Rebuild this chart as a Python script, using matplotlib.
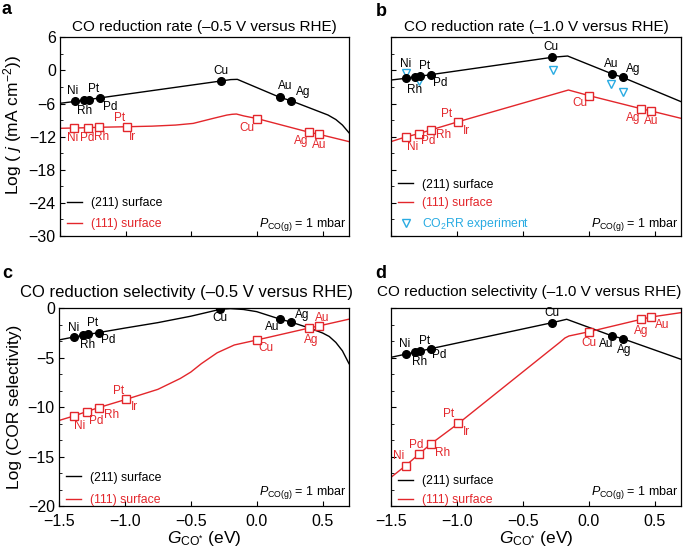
import numpy as np
import matplotlib
matplotlib.use("Agg")
import matplotlib.pyplot as plt
from matplotlib.ticker import MultipleLocator, AutoMinorLocator, FuncFormatter
from matplotlib.lines import Line2D

plt.rcParams['font.family'] = ['Liberation Sans', 'DejaVu Sans']
plt.rcParams['mathtext.fontset'] = 'custom'
plt.rcParams['mathtext.rm'] = 'Liberation Sans'
plt.rcParams['mathtext.it'] = 'Liberation Sans:italic'
plt.rcParams['mathtext.bf'] = 'Liberation Sans:bold'
plt.rcParams['axes.unicode_minus'] = True

BLACK = '#000000'
RED = '#e3262b'
CYAN = '#29abe2'

# ---------------- data ----------------
# panel a : rate at -0.5 V
a211_curve_G = [-1.5, -1.386, -1.32, -1.28, -1.196, -0.276, -0.2, -0.15, 0.173, 0.257, 0.54, 0.6, 0.65, 0.7]
a211_curve_v = [-5.96, -5.62, -5.40, -5.27, -4.98, -1.92, -1.66, -1.62, -4.87, -5.48, -8.08, -8.9, -9.9, -11.3]
a111_curve_G = [-1.5, -1.39, -1.29, -1.2, -0.988, -0.8, -0.62, -0.486, -0.334, -0.23, -0.19, -0.157, -0.1, 0.003, 0.396, 0.473, 0.7]
a111_curve_v = [-10.49, -10.43, -10.38, -10.3, -10.2, -10.1, -9.9, -9.6, -8.69, -8.09, -7.95, -7.9, -8.25, -8.74, -11.2, -11.58, -12.9]

metals211 = ['Ni', 'Rh', 'Pt', 'Pd', 'Cu', 'Au', 'Ag']
G211 = [-1.386, -1.32, -1.28, -1.196, -0.276, 0.173, 0.257]
a211_v = [-5.62, -5.40, -5.27, -4.98, -1.92, -4.87, -5.48]

metals111 = ['Ni', 'Pd', 'Rh', 'Pt', 'Cu', 'Ag', 'Au']
G111 = [-1.39, -1.29, -1.2, -0.988, 0.003, 0.396, 0.473]
a111_v = [-10.43, -10.38, -10.3, -10.2, -8.74, -11.2, -11.58]

# panel b : rate at -1.0 V
b211_curve_G = [-1.5, -1.386, -1.32, -1.28, -1.196, -0.276, -0.16, 0.173, 0.257, 0.7]
b211_curve_v = [-1.74, -1.42, -1.18, -1.06, -0.76, 2.38, 2.61, -0.59, -1.25, -5.66]
b211_v = [-1.42, -1.18, -1.06, -0.76, 2.38, -0.59, -1.25]
b111_curve_G = [-1.5, -1.39, -1.29, -1.2, -0.988, -0.154, 0.003, 0.396, 0.473, 0.7]
b111_curve_v = [-12.9, -12.06, -11.46, -10.8, -9.28, -3.55, -4.57, -6.93, -7.35, -8.68]
b111_v = [-12.06, -11.46, -10.8, -9.28, -4.57, -6.93, -7.35]
exp_metals = ['Ni', 'Pt', 'Cu', 'Au', 'Ag']
exp_G = [-1.386, -1.29, -0.272, 0.17, 0.259]
exp_v = [-0.45, -2.0, 0.08, -2.52, -3.96]

# panel c : selectivity at -0.5 V
c211_curve_G = [-1.5, -1.386, -1.32, -1.28, -1.196, -1.0, -0.75, -0.5, -0.276, -0.2, -0.1, 0.0, 0.173, 0.257, 0.4, 0.45, 0.5, 0.55, 0.6, 0.65, 0.7]
c211_curve_v = [-3.2, -2.9, -2.75, -2.65, -2.45, -2.0, -1.45, -0.8, -0.1, -0.03, -0.12, -0.34, -1.08, -1.38, -2.0, -2.25, -2.5, -2.85, -3.45, -4.3, -5.6]
c211_v = [-2.9, -2.75, -2.65, -2.45, -0.1, -1.08, -1.38]
c111_curve_G = [-1.5, -1.39, -1.29, -1.2, -0.988, -0.75, -0.58, -0.5, -0.42, -0.3, -0.17, 0.003, 0.396, 0.473, 0.7]
c111_curve_v = [-11.35, -10.9, -10.45, -10.05, -9.2, -8.2, -7.1, -6.45, -5.6, -4.5, -3.71, -3.2, -2.0, -1.78, -1.1]
c111_v = [-10.9, -10.45, -10.05, -9.2, -3.2, -2.0, -1.78]

# panel d : selectivity at -1.0 V
d211_curve_G = [-1.5, -1.386, -1.32, -1.28, -1.196, -0.276, -0.167, 0.173, 0.257, 0.7]
d211_curve_v = [-4.96, -4.63, -4.45, -4.33, -4.08, -1.45, -1.11, -2.77, -3.07, -5.16]
d211_v = [-4.63, -4.45, -4.33, -4.08, -1.45, -2.77, -3.07]
d111_curve_G = [-1.5, -1.39, -1.29, -1.2, -0.988, -0.3, -0.22, -0.18, -0.15, 0.003, 0.396, 0.473, 0.7]
d111_curve_v = [-17.1, -15.93, -14.78, -13.74, -11.64, -4.3, -3.45, -3.0, -2.8, -2.37, -1.12, -0.88, -0.44]
d111_v = [-15.93, -14.78, -13.74, -11.64, -2.37, -1.12, -0.88]

# label offsets (pixels, y up) for each metal marker
a211_off = [(-2, 10), (1, -11), (5, 11), (10, -9), (0, 10), (5, 11), (12, 9)]
a111_off = [(-2, -10), (0, -10), (2, -10), (-8, 9), (-11, -9), (-8, -9), (0, -11)]
b211_off = [(0, 14), (0, -13), (5, 10), (9, -8), (-1, 10), (0, 10), (11, 8)]
b111_off = [(7, -10), (10, -7), (13, -5), (-12, 8), (-9, -7), (-8, -9), (0, -10)]
c211_off = [(0, 9), (5, -10), (5, 11), (9, -7), (0, -9), (-7, -8), (12, 7)]
c111_off = [(6, -10), (10, -9), (13, -7), (-8, 8), (9, -8), (2, -12), (3, 8)]
d211_off = [(-1, 10), (5, -10), (5, 10), (8, -6), (0, 10), (-5, -8), (2, -11)]
d111_off = [(-7, 10), (-2, 9), (12, -9), (-10, 9), (0, -11), (0, -12), (11, -8)]

titles = ['CO reduction rate (\u20130.5 V versus RHE)', 'CO reduction rate (\u20131.0 V versus RHE)',
          'CO reduction selectivity (\u20130.5 V versus RHE)', 'CO reduction selectivity (\u20131.0 V versus RHE)']
panel_letters = ['a', 'b', 'c', 'd']
legend_labels = ['(211) surface', '(111) surface', 'CO$_2$RR experiment']
pressure_text = '$P_{\\mathrm{CO(g)}}$ = 1 mbar'

# ---------------- figure ----------------
fig = plt.figure(figsize=(6.85, 5.53), dpi=100)
W, H = 685.0, 553.0

def box(l, t, r, b):
    return [l / W, 1 - b / H, (r - l) / W, (b - t) / H]

axa = fig.add_axes(box(60, 37.3, 349, 236))
axb = fig.add_axes(box(391, 37.3, 681, 236), sharex=axa, sharey=axa)
axc = fig.add_axes(box(59, 308.3, 349, 506), sharex=axa)
axd = fig.add_axes(box(391, 308.3, 681, 506), sharex=axa, sharey=axc)
axes = [axa, axb, axc, axd]

LFS = 8.5

def plot_panel(ax, cG211, cv211, v211, off211, cG111, cv111, v111, off111, ir_off):
    ax.plot(cG211, cv211, color=BLACK, lw=1.0, zorder=2)
    ax.plot(cG111, cv111, color=RED, lw=1.0, zorder=2)
    ax.plot(G211, v211, 'o', color=BLACK, ms=5.5, zorder=4)
    ax.plot(G111, v111, 's', mfc='white', mec=RED, mew=1.0, ms=5.5, zorder=4)
    for m, g, v, o in zip(metals211, G211, v211, off211):
        ax.annotate(m, (g, v), xytext=o, textcoords='offset pixels', ha='center', va='center',
                    fontsize=LFS, color=BLACK, zorder=5)
    for m, g, v, o in zip(metals111, G111, v111, off111):
        ax.annotate(m, (g, v), xytext=o, textcoords='offset pixels', ha='center', va='center',
                    fontsize=LFS, color=RED, zorder=5)
    # Ir shares the Pt square
    ax.annotate('Ir', (G111[3], v111[3]), xytext=ir_off, textcoords='offset pixels',
                ha='center', va='center', fontsize=LFS, color=RED, zorder=5)

plot_panel(axa, a211_curve_G, a211_curve_v, a211_v, a211_off, a111_curve_G, a111_curve_v, a111_v, a111_off, (5, -10))
plot_panel(axb, b211_curve_G, b211_curve_v, b211_v, b211_off, b111_curve_G, b111_curve_v, b111_v, b111_off, (8, -9))
axb.plot(exp_G, exp_v, 'v', mfc='none', mec=CYAN, mew=1.0, ms=5.5, zorder=3)
plot_panel(axc, c211_curve_G, c211_curve_v, c211_v, c211_off, c111_curve_G, c111_curve_v, c111_v, c111_off, (8, -8))
plot_panel(axd, d211_curve_G, d211_curve_v, d211_v, d211_off, d111_curve_G, d111_curve_v, d111_v, d111_off, (8, -9))

minus_fmt = FuncFormatter(lambda x, p: ('%g' % x).replace('-', '\u2212'))
minus_fmt1 = FuncFormatter(lambda x, p: ('%.1f' % x).replace('-', '\u2212'))

axa.set_xlim(-1.5, 0.7)
axa.set_ylim(-30, 6)
axc.set_ylim(-20, 0)
axa.xaxis.set_major_locator(MultipleLocator(0.5))
axa.yaxis.set_major_locator(MultipleLocator(6))
axa.yaxis.set_minor_locator(MultipleLocator(3))
axc.yaxis.set_major_locator(MultipleLocator(5))
axc.yaxis.set_minor_locator(AutoMinorLocator(3))
axa.yaxis.set_major_formatter(minus_fmt)
axc.yaxis.set_major_formatter(minus_fmt)
axc.xaxis.set_major_formatter(minus_fmt1)

title_kw = [dict(fontsize=11, pad=4.5), dict(fontsize=11, pad=4.5),
            dict(fontsize=12, pad=8, x=0.44), dict(fontsize=11, pad=9, x=0.478)]
for i, ax in enumerate(axes):
    ax.tick_params(which='both', direction='in', top=False, right=False, labelsize=11.5)
    ax.tick_params(axis='y', pad=3)
    ax.tick_params(axis='x', pad=6)
    ax.tick_params(which='major', length=3.5, width=0.8)
    ax.tick_params(which='minor', length=2, width=0.6)
    for s in ax.spines.values():
        s.set_linewidth(0.9)
    ax.set_title(titles[i], **title_kw[i])
    if i < 2:
        ax.tick_params(labelbottom=False)
    if i in (1, 3):
        ax.tick_params(labelleft=False)
    ax.text(0.99, 0.06 if i < 2 else 0.07, pressure_text, transform=ax.transAxes, ha='right',
            va='center', fontsize=9)

axa.set_ylabel('Log ( $\\mathit{j}$ (mA cm$^{\\mathregular{-2}}$))', fontsize=12.5)
axa.yaxis.set_label_coords(-0.126, 0.56)
axc.set_ylabel('Log (COR selectivity)', fontsize=12.5)
axc.yaxis.set_label_coords(-0.128, 0.5)
for ax in (axc, axd):
    ax.set_xlabel('$\\mathit{G}_{\\mathrm{CO}^{*}}$ (eV)', fontsize=12.5, labelpad=0)

# legends
def add_legend(ax, with_exp, spacing, y0):
    handles = [Line2D([], [], color=BLACK, lw=1.0), Line2D([], [], color=RED, lw=1.0)]
    labels = legend_labels[:2]
    if with_exp:
        handles.append(Line2D([], [], ls='none', marker='v', mfc='none', mec=CYAN, mew=1.0, ms=5.5))
        labels.append(legend_labels[2])
    leg = ax.legend(handles, labels, loc='lower left', bbox_to_anchor=(0.025, y0), frameon=False,
                    fontsize=8.8, handlelength=1.2, handletextpad=0.75, labelspacing=spacing,
                    borderaxespad=0, borderpad=0)
    cols = [BLACK, RED, CYAN]
    for t, c in zip(leg.get_texts(), cols):
        t.set_color(c)

add_legend(axa, False, 0.75, 0.03)
add_legend(axb, True, 0.55, 0.02)
add_legend(axc, False, 0.85, 0.0)
add_legend(axd, False, 0.55, 0.0)

# panel letters
for letter, (x, y) in zip(panel_letters, [(7, 10), (381, 12), (7, 273), (381, 273)]):
    fig.text(x / W, 1 - y / H, letter, fontsize=13, fontweight='bold', ha='center', va='center')

fig.savefig('out.png', dpi=100)
